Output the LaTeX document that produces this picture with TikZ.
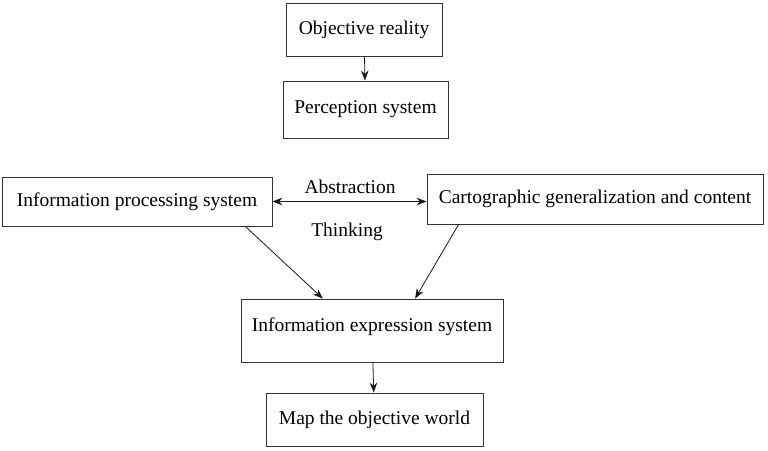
\documentclass[tikz,border=0pt]{standalone}
\usepackage{fontspec}
\setmainfont{Liberation Serif}
\usepackage{tikz}
\usetikzlibrary{positioning,calc,arrows.meta}

\begin{document}
\begin{tikzpicture}[x=1pt,y=-1pt,
	box/.style={draw=black!80,line width=0.8pt,inner sep=0pt,font=\fontsize{19.5}{22}\selectfont},
	word/.style={inner sep=0pt,font=\fontsize{19.5}{22}\selectfont},
	link/.style={draw=black!90,line width=0.8pt,-{Stealth[length=10pt,width=7.5pt]}}]
	\useasboundingbox (0,0) rectangle (768,450);
	
	% 各个方框
	\node[box,minimum width=156pt,minimum height=53pt] (obj) at (364,29.5) {Objective reality};
	\node[box,minimum width=165pt,minimum height=57pt] (perc) at (365.5,109.5) {Perception system};
	\node[box,minimum width=270pt,minimum height=49pt] (proc) at (137,201.5) {Information processing system\hspace{10pt}};
	\node[box,minimum width=336pt,minimum height=50pt] (carto) at (595,199) {Cartographic generalization and content};
	\node[box,minimum width=262pt,minimum height=63pt,text depth=11pt] (expr) at (372,330.5) {Information expression system};
	\node[box,minimum width=217pt,minimum height=53pt] (mapw) at (374.5,419.5) {Map the objective world};
	
	% 中间的文字
	\node[word] (abst) at (350,187) {Abstraction};
	\node[word] (think) at (347,232) {Thinking};
	
	% 箭头
	\draw[link] (obj) -- (perc);
	\draw[link,{Stealth[length=10pt,width=7.5pt]}-{Stealth[length=10pt,width=7.5pt]}] (proc.east) -- (proc.east -| carto.west);
	\draw[link] ($(proc.south west)!0.9!(proc.south east)$) -- ($(expr.north west)!0.313!(expr.north east)$);
	\draw[link] ($(carto.south west)!0.095!(carto.south east)$) -- ($(expr.north west)!0.664!(expr.north east)$);
	\draw[link] (expr) -- (mapw);
\end{tikzpicture}
\end{document}
